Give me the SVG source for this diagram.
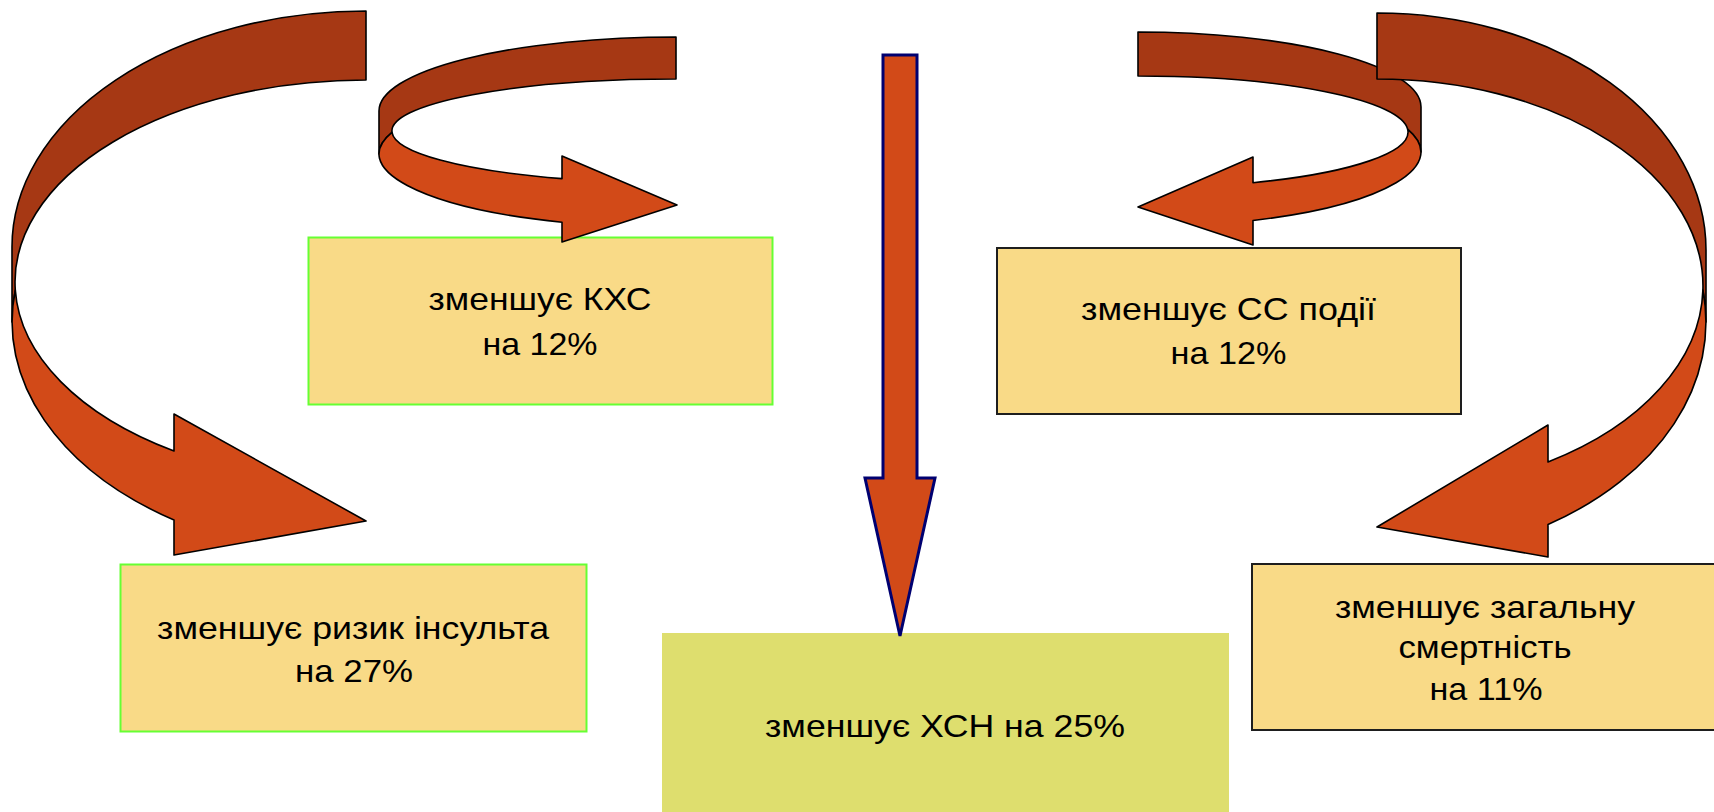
<svg xmlns="http://www.w3.org/2000/svg" width="1714" height="812" viewBox="0 0 1714 812">
<style>
.box{fill:#F9DA87}
.g{stroke:#66FF33;stroke-width:2}
.k{stroke:#1E1E1E;stroke-width:2}
.t{font-family:"Liberation Sans",Arial,sans-serif;font-size:32px;fill:#000;text-anchor:middle}
.dk{fill:#A63814;stroke:#000;stroke-width:1.6;stroke-linejoin:round}
.lt{fill:#D24A18;stroke:#000;stroke-width:1.6;stroke-linejoin:round}
</style>
<rect width="1714" height="812" fill="#FFFFFF"/>
<g id="node-khs">
<rect class="box g" x="308.5" y="237.5" width="464" height="167"/>
<text class="t" x="540" y="310" textLength="223" lengthAdjust="spacingAndGlyphs">зменшує КХС</text>
<text class="t" x="540" y="355" textLength="115" lengthAdjust="spacingAndGlyphs">на 12%</text>
</g>
<g id="node-stroke">
<rect class="box g" x="120.5" y="564.5" width="466" height="167"/>
<text class="t" x="353" y="639" textLength="392" lengthAdjust="spacingAndGlyphs">зменшує ризик інсульта</text>
<text class="t" x="354" y="682" textLength="118" lengthAdjust="spacingAndGlyphs">на 27%</text>
</g>
<g id="node-hsn">
<rect x="662" y="633" width="567" height="190" fill="#DEDE6E"/>
<text class="t" x="945" y="737" textLength="360" lengthAdjust="spacingAndGlyphs">зменшує ХСН на 25%</text>
</g>
<g id="node-cc">
<rect class="box k" x="997" y="248" width="464" height="166"/>
<text class="t" x="1228.5" y="320" textLength="295" lengthAdjust="spacingAndGlyphs">зменшує СС події</text>
<text class="t" x="1228.5" y="364" textLength="116" lengthAdjust="spacingAndGlyphs">на 12%</text>
</g>
<g id="node-mortality">
<rect class="box k" x="1252" y="564" width="475" height="166"/>
<text class="t" x="1485" y="618" textLength="300" lengthAdjust="spacingAndGlyphs">зменшує загальну</text>
<text class="t" x="1485" y="658" textLength="173" lengthAdjust="spacingAndGlyphs">смертність</text>
<text class="t" x="1486" y="700" textLength="113" lengthAdjust="spacingAndGlyphs">на 11%</text>
</g>
<g id="connectors">
<g id="arrow-big-left">
<path class="dk" d="M 366,11 A 354 236 0 0 0 12,247 L 12,322 A 354 236 0 0 1 15.3,290 A 351 202 0 0 1 366,80 Z"/>
<path class="lt" d="M 15.3,290 A 351 202 0 0 0 174,451 L 174,414 L 366,521 L 174,555 L 174,520 A 354 236 0 0 1 15.3,290 Z"/>
</g>
<g id="arrow-small-left">
<path class="dk" d="M 676,37 A 297 74 0 0 0 379,111 L 379,154 A 297 74 0 0 1 392,132.3 A 284 52 0 0 1 676,79 Z"/>
<path class="lt" d="M 392,132.3 A 284 52 0 0 0 562,178.6 L 562,156 L 677,205 L 562,242 L 562,222.3 A 297 74 0 0 1 392,132.3 Z"/>
</g>
<g id="arrow-small-right">
<path class="dk" d="M 1138,32 A 283 75 0 0 1 1421,107 L 1421,152 A 283 75 0 0 0 1407.7,129.3 A 270 56 0 0 0 1138,76 Z"/>
<path class="lt" d="M 1407.7,129.3 A 270 56 0 0 1 1253,182.7 L 1253,157 L 1138,207 L 1253,245 L 1253,220.5 A 283 75 0 0 0 1407.7,129.3 Z"/>
</g>
<g id="arrow-big-right">
<path class="dk" d="M 1377,13 A 329 237 0 0 1 1706,250 L 1706,322 A 329 237 0 0 0 1702.9,290 A 326 207 0 0 0 1377,79 Z"/>
<path class="lt" d="M 1702.9,290 A 326 207 0 0 1 1548,462 L 1548,425 L 1377,527 L 1548,557 L 1548,524.5 A 329 237 0 0 0 1702.9,290 Z"/>
</g>
<path id="arrow-down" d="M 883,55 L 917,55 L 917,478 L 935,478 L 900,636 L 865,478 L 883,478 Z" fill="#D24A18" stroke="#000070" stroke-width="3"/>
</g>
</svg>
